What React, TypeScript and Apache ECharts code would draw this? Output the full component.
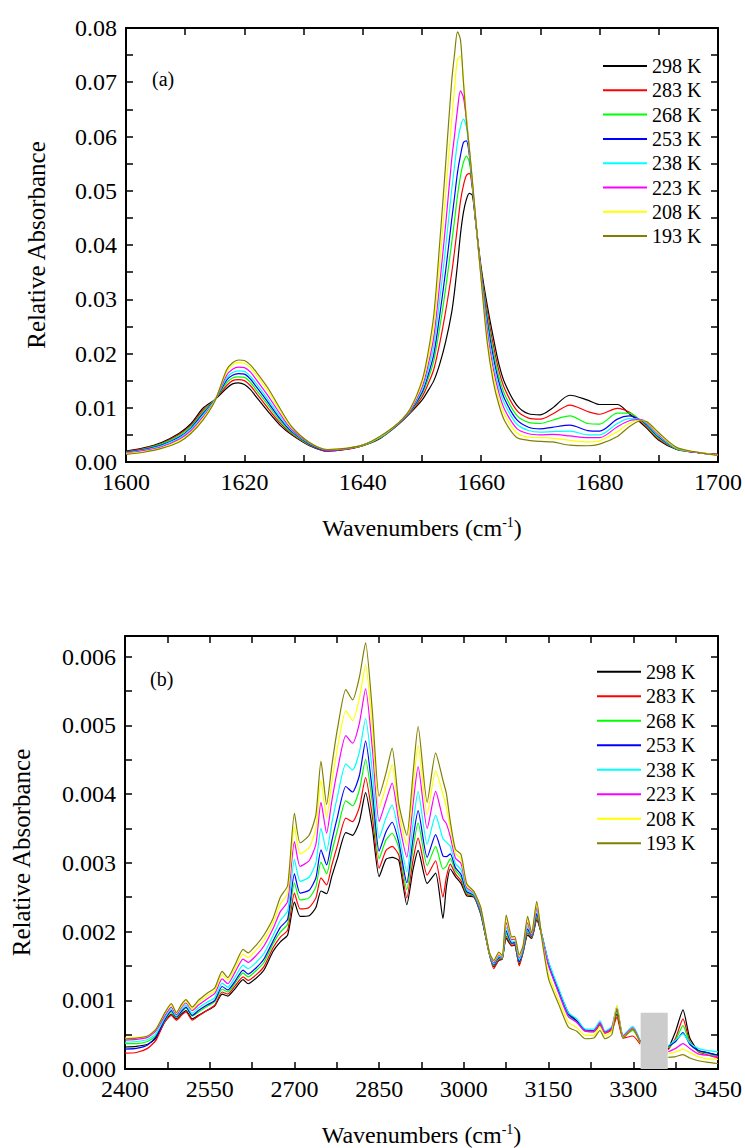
import React, { useEffect, useRef } from "react";
import * as echarts from "echarts";

const FONT = "Liberation Serif";

const TEMPS = ["298 K", "283 K", "268 K", "253 K", "238 K", "223 K", "208 K", "193 K"];
const COLORS = ["#000000", "#ff0000", "#00ff00", "#0000ff", "#00ffff", "#ff00ff", "#ffff00", "#808000"];

// ---------- Panel (a): 1600-1700 cm-1 ----------
const WN_A = [1600, 1603, 1606, 1609, 1611, 1613, 1615, 1617, 1618, 1619, 1620, 1621, 1622, 1624, 1626, 1628, 1631, 1634, 1637, 1640, 1643, 1646, 1648, 1650, 1651, 1652, 1653, 1654, 1655, 1655.5, 1656, 1656.5, 1657, 1657.5, 1658, 1658.5, 1659, 1660, 1661, 1662, 1663, 1664, 1666, 1668, 1670, 1672, 1675, 1678, 1680, 1683, 1685, 1687, 1688, 1690, 1693, 1696, 1700];

const A_298 = [0.0020, 0.0026, 0.0036, 0.0053, 0.0071, 0.0099, 0.0115, 0.0136, 0.0144, 0.0146, 0.0143, 0.0134, 0.0120, 0.0093, 0.0068, 0.0050, 0.0030, 0.0020, 0.0023, 0.0030, 0.0044, 0.0069, 0.0090, 0.0114, 0.0131, 0.0150, 0.0181, 0.0222, 0.0275, 0.0315, 0.0365, 0.0420, 0.0460, 0.0484, 0.0495, 0.0492, 0.0448, 0.0358, 0.0290, 0.0232, 0.0180, 0.0145, 0.0105, 0.0089, 0.0087, 0.0099, 0.0123, 0.0114, 0.0106, 0.0106, 0.0089, 0.0072, 0.0062, 0.0040, 0.0023, 0.0018, 0.0014];
const A_283 = [0.0019, 0.0025, 0.0034, 0.0051, 0.0068, 0.0095, 0.0115, 0.0141, 0.0150, 0.0152, 0.0150, 0.0141, 0.0127, 0.0099, 0.0072, 0.0052, 0.0031, 0.0020, 0.0023, 0.0030, 0.0045, 0.0070, 0.0091, 0.0120, 0.0143, 0.0171, 0.0219, 0.0278, 0.0347, 0.0389, 0.0435, 0.0481, 0.0510, 0.0528, 0.0532, 0.0505, 0.0450, 0.0352, 0.0280, 0.0218, 0.0168, 0.0134, 0.0095, 0.0081, 0.0079, 0.0088, 0.0105, 0.0093, 0.0088, 0.0099, 0.0092, 0.0074, 0.0064, 0.0042, 0.0024, 0.0018, 0.0014];
const A_268 = [0.0018, 0.0024, 0.0033, 0.0049, 0.0066, 0.0092, 0.0115, 0.0146, 0.0155, 0.0157, 0.0156, 0.0147, 0.0133, 0.0105, 0.0076, 0.0054, 0.0032, 0.0021, 0.0024, 0.0030, 0.0045, 0.0070, 0.0092, 0.0125, 0.0152, 0.0187, 0.0248, 0.0320, 0.0403, 0.0446, 0.0491, 0.0527, 0.0552, 0.0564, 0.0552, 0.0508, 0.0451, 0.0349, 0.0271, 0.0207, 0.0157, 0.0124, 0.0086, 0.0073, 0.0071, 0.0077, 0.0085, 0.0071, 0.0070, 0.0090, 0.0090, 0.0076, 0.0066, 0.0044, 0.0024, 0.0018, 0.0013];
const A_253 = [0.0018, 0.0023, 0.0031, 0.0046, 0.0063, 0.0089, 0.0114, 0.0151, 0.0160, 0.0163, 0.0162, 0.0153, 0.0139, 0.0110, 0.0080, 0.0056, 0.0033, 0.0021, 0.0024, 0.0031, 0.0046, 0.0070, 0.0093, 0.0128, 0.0159, 0.0199, 0.0271, 0.0353, 0.0445, 0.0489, 0.0534, 0.0565, 0.0589, 0.0592, 0.0565, 0.0510, 0.0452, 0.0346, 0.0262, 0.0196, 0.0147, 0.0115, 0.0078, 0.0064, 0.0061, 0.0064, 0.0068, 0.0058, 0.0057, 0.0079, 0.0085, 0.0077, 0.0068, 0.0046, 0.0025, 0.0018, 0.0013];
const A_238 = [0.0017, 0.0022, 0.0030, 0.0044, 0.0061, 0.0086, 0.0114, 0.0155, 0.0165, 0.0168, 0.0167, 0.0158, 0.0145, 0.0115, 0.0084, 0.0058, 0.0034, 0.0022, 0.0024, 0.0031, 0.0046, 0.0071, 0.0094, 0.0133, 0.0168, 0.0215, 0.0300, 0.0396, 0.0500, 0.0546, 0.0590, 0.0618, 0.0632, 0.0618, 0.0570, 0.0512, 0.0453, 0.0343, 0.0253, 0.0185, 0.0137, 0.0106, 0.0070, 0.0058, 0.0055, 0.0056, 0.0057, 0.0050, 0.0050, 0.0071, 0.0080, 0.0078, 0.0070, 0.0048, 0.0025, 0.0018, 0.0013];
const A_223 = [0.0016, 0.0021, 0.0028, 0.0042, 0.0058, 0.0083, 0.0113, 0.0160, 0.0171, 0.0175, 0.0174, 0.0166, 0.0152, 0.0122, 0.0089, 0.0060, 0.0035, 0.0022, 0.0024, 0.0031, 0.0047, 0.0071, 0.0095, 0.0138, 0.0177, 0.0231, 0.0329, 0.0438, 0.0556, 0.0602, 0.0650, 0.0684, 0.0672, 0.0632, 0.0575, 0.0515, 0.0455, 0.0340, 0.0243, 0.0174, 0.0127, 0.0096, 0.0062, 0.0052, 0.0050, 0.0051, 0.0048, 0.0045, 0.0045, 0.0065, 0.0076, 0.0078, 0.0072, 0.0050, 0.0026, 0.0018, 0.0013];
const A_208 = [0.0015, 0.0019, 0.0026, 0.0039, 0.0055, 0.0080, 0.0113, 0.0166, 0.0179, 0.0183, 0.0182, 0.0174, 0.0160, 0.0130, 0.0095, 0.0063, 0.0036, 0.0023, 0.0025, 0.0031, 0.0047, 0.0072, 0.0097, 0.0144, 0.0188, 0.0251, 0.0367, 0.0494, 0.0628, 0.0690, 0.0742, 0.0748, 0.0705, 0.0640, 0.0578, 0.0518, 0.0456, 0.0337, 0.0232, 0.0162, 0.0116, 0.0086, 0.0054, 0.0046, 0.0045, 0.0044, 0.0040, 0.0037, 0.0039, 0.0056, 0.0071, 0.0077, 0.0073, 0.0052, 0.0026, 0.0019, 0.0012];
const A_193 = [0.0014, 0.0018, 0.0025, 0.0037, 0.0053, 0.0077, 0.0112, 0.0170, 0.0183, 0.0188, 0.0187, 0.0179, 0.0166, 0.0136, 0.0099, 0.0065, 0.0036, 0.0023, 0.0025, 0.0031, 0.0048, 0.0072, 0.0098, 0.0150, 0.0200, 0.0272, 0.0405, 0.0550, 0.0700, 0.0752, 0.0793, 0.0778, 0.0700, 0.0630, 0.0578, 0.0520, 0.0458, 0.0335, 0.0222, 0.0150, 0.0105, 0.0075, 0.0045, 0.0040, 0.0038, 0.0037, 0.0031, 0.0030, 0.0033, 0.0047, 0.0065, 0.0076, 0.0074, 0.0054, 0.0027, 0.0019, 0.0012];
const SERIES_A = [A_298, A_283, A_268, A_253, A_238, A_223, A_208, A_193];

// ---------- Panel (b): 2400-3450 cm-1 (null = hidden behind grey box) ----------
const WN_B = [2400, 2420, 2440, 2455, 2470, 2482, 2491, 2500, 2508, 2519, 2530, 2545, 2559, 2572, 2582, 2595, 2609, 2618, 2632, 2646, 2662, 2675, 2688, 2700, 2710, 2726, 2738, 2747, 2757, 2766, 2776, 2791, 2803, 2815, 2826, 2838, 2850, 2862, 2873, 2885, 2899, 2910, 2919, 2935, 2950, 2963, 2969, 2976, 2985, 2995, 3005, 3018, 3030, 3045, 3053, 3062, 3068, 3075, 3085, 3090, 3098, 3105, 3113, 3120, 3129, 3138, 3150, 3168, 3185, 3200, 3215, 3230, 3241, 3250, 3262, 3271, 3282, 3299, 3312, 3337, 3362, 3375, 3388, 3400, 3415, 3430, 3450];

const B_298 = [0.00032, 0.00033, 0.00036, 0.00045, 0.00068, 0.00080, 0.00073, 0.00080, 0.00085, 0.00073, 0.00078, 0.00085, 0.00092, 0.00109, 0.00106, 0.00117, 0.00130, 0.00124, 0.00132, 0.00144, 0.00171, 0.00185, 0.00195, 0.00243, 0.00222, 0.00223, 0.00235, 0.00259, 0.00255, 0.00280, 0.00306, 0.00344, 0.00340, 0.00360, 0.00402, 0.00350, 0.00280, 0.00305, 0.00308, 0.00303, 0.00239, 0.00290, 0.00318, 0.00270, 0.00285, 0.00219, 0.00265, 0.00291, 0.00280, 0.00270, 0.00252, 0.00250, 0.00225, 0.00168, 0.00149, 0.00158, 0.00160, 0.00190, 0.00179, 0.00180, 0.00152, 0.00170, 0.00195, 0.00190, 0.00217, 0.00195, 0.00155, 0.00115, 0.00082, 0.00070, 0.00056, 0.00055, 0.00065, 0.00053, 0.00058, 0.00080, 0.00048, 0.00058, 0.00040, null, 0.00029, 0.00055, 0.00086, 0.00045, 0.00027, 0.00024, 0.00020];
const B_283 = [0.00023, 0.00024, 0.00030, 0.00042, 0.00068, 0.00078, 0.00071, 0.00078, 0.00083, 0.00071, 0.00077, 0.00085, 0.00093, 0.00112, 0.00109, 0.00121, 0.00134, 0.00129, 0.00137, 0.00149, 0.00176, 0.00192, 0.00202, 0.00256, 0.00233, 0.00235, 0.00249, 0.00278, 0.00268, 0.00296, 0.00325, 0.00365, 0.00360, 0.00381, 0.00424, 0.00367, 0.00292, 0.00318, 0.00324, 0.00311, 0.00249, 0.00304, 0.00336, 0.00282, 0.00303, 0.00250, 0.00279, 0.00298, 0.00284, 0.00274, 0.00254, 0.00251, 0.00226, 0.00168, 0.00146, 0.00159, 0.00160, 0.00193, 0.00180, 0.00181, 0.00150, 0.00171, 0.00198, 0.00191, 0.00220, 0.00195, 0.00152, 0.00112, 0.00078, 0.00068, 0.00055, 0.00054, 0.00064, 0.00052, 0.00057, 0.00075, 0.00045, 0.00048, 0.00036, null, 0.00028, 0.00045, 0.00073, 0.00040, 0.00025, 0.00021, 0.00016];
const B_268 = [0.00037, 0.00037, 0.00040, 0.00049, 0.00070, 0.00083, 0.00075, 0.00083, 0.00089, 0.00077, 0.00083, 0.00091, 0.00098, 0.00116, 0.00112, 0.00125, 0.00140, 0.00134, 0.00143, 0.00155, 0.00182, 0.00199, 0.00211, 0.00271, 0.00246, 0.00249, 0.00265, 0.00301, 0.00284, 0.00315, 0.00347, 0.00390, 0.00383, 0.00406, 0.00450, 0.00387, 0.00306, 0.00333, 0.00343, 0.00321, 0.00261, 0.00321, 0.00358, 0.00296, 0.00324, 0.00291, 0.00295, 0.00306, 0.00289, 0.00279, 0.00256, 0.00252, 0.00227, 0.00168, 0.00151, 0.00161, 0.00161, 0.00197, 0.00182, 0.00183, 0.00155, 0.00172, 0.00201, 0.00192, 0.00223, 0.00194, 0.00152, 0.00112, 0.00078, 0.00069, 0.00056, 0.00055, 0.00066, 0.00053, 0.00059, 0.00086, 0.00047, 0.00056, 0.00039, null, 0.00031, 0.00042, 0.00063, 0.00038, 0.00026, 0.00023, 0.00018];
const B_253 = [0.00029, 0.00030, 0.00035, 0.00047, 0.00071, 0.00085, 0.00076, 0.00084, 0.00090, 0.00078, 0.00085, 0.00093, 0.00100, 0.00120, 0.00115, 0.00128, 0.00144, 0.00138, 0.00147, 0.00160, 0.00186, 0.00206, 0.00218, 0.00284, 0.00256, 0.00260, 0.00278, 0.00319, 0.00297, 0.00331, 0.00366, 0.00411, 0.00403, 0.00427, 0.00477, 0.00404, 0.00317, 0.00345, 0.00359, 0.00329, 0.00271, 0.00335, 0.00376, 0.00308, 0.00341, 0.00310, 0.00309, 0.00313, 0.00293, 0.00283, 0.00258, 0.00253, 0.00228, 0.00169, 0.00152, 0.00162, 0.00162, 0.00201, 0.00183, 0.00184, 0.00156, 0.00173, 0.00204, 0.00193, 0.00226, 0.00194, 0.00153, 0.00114, 0.00080, 0.00070, 0.00057, 0.00056, 0.00067, 0.00054, 0.00060, 0.00088, 0.00048, 0.00058, 0.00040, null, 0.00033, 0.00040, 0.00053, 0.00036, 0.00027, 0.00024, 0.00020];
const B_238 = [0.00039, 0.00040, 0.00043, 0.00052, 0.00074, 0.00087, 0.00077, 0.00087, 0.00093, 0.00081, 0.00089, 0.00097, 0.00104, 0.00125, 0.00119, 0.00134, 0.00151, 0.00146, 0.00155, 0.00168, 0.00194, 0.00216, 0.00230, 0.00305, 0.00273, 0.00279, 0.00300, 0.00350, 0.00317, 0.00357, 0.00396, 0.00444, 0.00435, 0.00461, 0.00510, 0.00432, 0.00336, 0.00365, 0.00384, 0.00342, 0.00287, 0.00357, 0.00404, 0.00327, 0.00369, 0.00335, 0.00330, 0.00324, 0.00299, 0.00290, 0.00261, 0.00254, 0.00230, 0.00169, 0.00153, 0.00164, 0.00162, 0.00206, 0.00185, 0.00186, 0.00159, 0.00175, 0.00208, 0.00194, 0.00232, 0.00196, 0.00156, 0.00117, 0.00082, 0.00073, 0.00058, 0.00058, 0.00070, 0.00055, 0.00062, 0.00092, 0.00049, 0.00062, 0.00042, null, 0.00034, 0.00042, 0.00051, 0.00038, 0.00030, 0.00027, 0.00025];
const B_223 = [0.00042, 0.00043, 0.00046, 0.00056, 0.00077, 0.00090, 0.00079, 0.00090, 0.00096, 0.00085, 0.00093, 0.00102, 0.00110, 0.00131, 0.00124, 0.00141, 0.00160, 0.00155, 0.00165, 0.00179, 0.00204, 0.00229, 0.00244, 0.00331, 0.00295, 0.00303, 0.00327, 0.00388, 0.00343, 0.00389, 0.00434, 0.00485, 0.00474, 0.00503, 0.00553, 0.00466, 0.00360, 0.00390, 0.00416, 0.00359, 0.00308, 0.00385, 0.00440, 0.00350, 0.00404, 0.00364, 0.00357, 0.00338, 0.00307, 0.00299, 0.00264, 0.00256, 0.00232, 0.00170, 0.00155, 0.00166, 0.00163, 0.00213, 0.00188, 0.00189, 0.00162, 0.00177, 0.00213, 0.00195, 0.00235, 0.00193, 0.00150, 0.00110, 0.00076, 0.00068, 0.00055, 0.00055, 0.00067, 0.00053, 0.00060, 0.00090, 0.00048, 0.00060, 0.00040, null, 0.00025, 0.00030, 0.00037, 0.00030, 0.00022, 0.00020, 0.00018];
const B_208 = [0.00045, 0.00046, 0.00048, 0.00058, 0.00080, 0.00093, 0.00081, 0.00092, 0.00099, 0.00087, 0.00097, 0.00106, 0.00114, 0.00137, 0.00129, 0.00147, 0.00167, 0.00162, 0.00173, 0.00187, 0.00212, 0.00240, 0.00256, 0.00353, 0.00313, 0.00322, 0.00350, 0.00420, 0.00366, 0.00416, 0.00466, 0.00521, 0.00507, 0.00539, 0.00588, 0.00495, 0.00379, 0.00411, 0.00443, 0.00373, 0.00325, 0.00409, 0.00471, 0.00370, 0.00434, 0.00400, 0.00381, 0.00350, 0.00314, 0.00306, 0.00267, 0.00257, 0.00234, 0.00170, 0.00157, 0.00168, 0.00164, 0.00219, 0.00190, 0.00191, 0.00164, 0.00179, 0.00218, 0.00197, 0.00240, 0.00191, 0.00138, 0.00100, 0.00068, 0.00060, 0.00049, 0.00049, 0.00061, 0.00048, 0.00055, 0.00092, 0.00046, 0.00058, 0.00038, null, 0.00022, 0.00025, 0.00029, 0.00024, 0.00018, 0.00015, 0.00014];
const B_193 = [0.00044, 0.00045, 0.00048, 0.00058, 0.00081, 0.00095, 0.00082, 0.00094, 0.00101, 0.00090, 0.00100, 0.00110, 0.00118, 0.00142, 0.00133, 0.00152, 0.00174, 0.00169, 0.00180, 0.00195, 0.00219, 0.00250, 0.00267, 0.00372, 0.00329, 0.00340, 0.00370, 0.00448, 0.00385, 0.00440, 0.00494, 0.00552, 0.00537, 0.00570, 0.00620, 0.00520, 0.00397, 0.00430, 0.00467, 0.00385, 0.00340, 0.00430, 0.00498, 0.00388, 0.00460, 0.00420, 0.00401, 0.00360, 0.00320, 0.00312, 0.00270, 0.00258, 0.00235, 0.00170, 0.00158, 0.00170, 0.00165, 0.00224, 0.00192, 0.00193, 0.00166, 0.00180, 0.00222, 0.00198, 0.00244, 0.00190, 0.00131, 0.00094, 0.00061, 0.00055, 0.00044, 0.00045, 0.00056, 0.00044, 0.00050, 0.00088, 0.00045, 0.00058, 0.00038, null, 0.00017, 0.00018, 0.00021, 0.00016, 0.00012, 0.00010, 0.00008];
const SERIES_B = [B_298, B_283, B_268, B_253, B_238, B_223, B_208, B_193];

// grey masked region in panel (b): [x from, x to, height]
const BOX_B = [3313, 3361, 0.00082];

// axis ranges: [min, max, tick step, label step]
const XA = [1600, 1700, 10, 20];
const YA = [0, 0.08, 0.005, 0.01];
const XB = [2400, 3450, 75, 150];
const YB = [0, 0.0063, 0.0005, 0.001];

const isMult = (a: number, s: number) => Math.abs(a / s - Math.round(a / s)) < 1e-6;

const X_NAME = "{a|Wavenumbers (cm}{s|-1}{a|)}";
const nameRich = {
  a: { fontFamily: FONT, fontSize: 24, color: "#000" },
  s: { fontFamily: FONT, fontSize: 14, color: "#000", padding: [0, 0, 12, 0] },
};

function makeAxes(grid: number, xr: number[], yr: number[], yDec: number, yGap: number) {
  const line = { onZero: false, lineStyle: { color: "#000", width: 2 } };
  const tick = { inside: true, length: 7, lineStyle: { color: "#000", width: 1.5 } };
  const label = { fontFamily: FONT, fontSize: 24, color: "#000" };
  const xc = { gridIndex: grid, type: "value", min: xr[0], max: xr[1], interval: xr[2], splitLine: { show: false }, axisLine: line, axisTick: tick };
  const yc = { gridIndex: grid, type: "value", min: yr[0], max: yr[1], interval: yr[2], splitLine: { show: false }, axisLine: line, axisTick: tick };
  const xs = [
    {
      ...xc,
      position: "bottom",
      axisLabel: { ...label, margin: 8, formatter: (v: number) => (isMult(v - xr[0], xr[3]) ? String(Math.round(v)) : "") },
      name: X_NAME,
      nameLocation: "middle",
      nameGap: 53,
      nameTextStyle: { fontFamily: FONT, fontSize: 24, color: "#000", rich: nameRich },
    },
    { ...xc, position: "top", axisLabel: { show: false } },
  ];
  const ys = [
    {
      ...yc,
      position: "left",
      axisLabel: {
        ...label,
        margin: 9,
        formatter: (v: number) => (isMult(v - yr[0], yr[3]) ? v.toFixed(yDec) : ""),
      },
      name: "Relative Absorbance",
      nameLocation: "middle",
      nameGap: yGap,
      nameTextStyle: { fontFamily: FONT, fontSize: 25, color: "#000" },
    },
    { ...yc, position: "right", axisLabel: { show: false } },
  ];
  return { xs, ys };
}

export default function App() {
  const ref = useRef<HTMLDivElement>(null);
  useEffect(() => {
    if (!ref.current) return;
    const chart = echarts.init(ref.current, null, { renderer: "svg" });
    const a = makeAxes(0, XA, YA, 2, 77);
    const b = makeAxes(1, XB, YB, 3, 91);

    const series: any[] = [];
    SERIES_A.forEach((ys, i) => {
      series.push({
        type: "line",
        name: TEMPS[i],
        xAxisIndex: 0,
        yAxisIndex: 0,
        data: WN_A.map((x, j) => [x, ys[j]]),
        showSymbol: false,
        symbol: "none",
        smooth: 0.3,
        color: COLORS[i],
        lineStyle: { width: 1.2, color: COLORS[i] },
        silent: true,
        z: 2 + i,
      });
    });
    SERIES_B.forEach((ys, i) => {
      series.push({
        type: "line",
        name: TEMPS[i],
        xAxisIndex: 2,
        yAxisIndex: 2,
        data: WN_B.map((x, j) => [x, ys[j] === null ? "-" : ys[j]]),
        showSymbol: false,
        symbol: "none",
        smooth: 0.2,
        connectNulls: false,
        color: COLORS[i],
        lineStyle: { width: 1.2, color: COLORS[i] },
        silent: true,
        z: 2 + i,
        markArea:
          i === 0
            ? {
                silent: true,
                itemStyle: { color: "#cccccc", opacity: 1 },
                data: [[{ xAxis: BOX_B[0], yAxis: 0 }, { xAxis: BOX_B[1], yAxis: BOX_B[2] }]],
              }
            : undefined,
      });
    });

    const legendCommon = {
      data: TEMPS,
      orient: "vertical",
      itemWidth: 44,
      itemHeight: 2,
      icon: "rect",
      selectedMode: false,
      textStyle: { fontFamily: FONT, fontSize: 20, color: "#000", lineHeight: 20 },
    };

    chart.setOption({
      animation: false,
      backgroundColor: "#ffffff",
      textStyle: { fontFamily: FONT },
      grid: [
        { left: 126, top: 28, width: 592, height: 434 },
        { left: 125, top: 636, width: 594, height: 436 },
      ],
      xAxis: [...a.xs, ...b.xs],
      yAxis: [...a.ys, ...b.ys],
      legend: [
        { ...legendCommon, left: 598, top: 51, itemGap: 4.3 },
        { ...legendCommon, left: 592, top: 656.7, itemGap: 4.5 },
      ],
      graphic: [
        { type: "text", left: 152, top: 69, style: { text: "(a)", font: "20px Liberation Serif", fill: "#000" } },
        { type: "text", left: 150, top: 669, style: { text: "(b)", font: "20px Liberation Serif", fill: "#000" } },
      ],
      series,
    });
    return () => chart.dispose();
  }, []);
  return <div ref={ref} style={{ position: "absolute", left: 0, top: 0, width: 745, height: 1148, background: "#fff" }} />;
}
